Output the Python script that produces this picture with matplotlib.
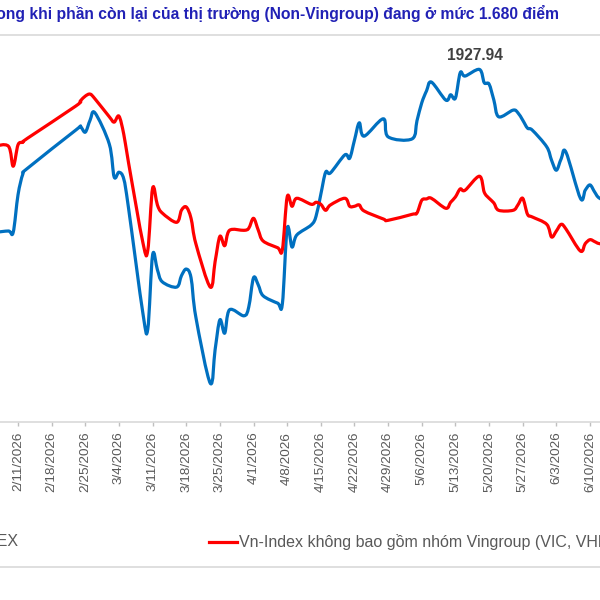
import matplotlib
matplotlib.use("Agg")
import matplotlib.pyplot as plt
import matplotlib.dates as mdates
from matplotlib.lines import Line2D
from matplotlib.patches import PathPatch
from matplotlib.path import Path
from matplotlib.ticker import FuncFormatter
import numpy as np
import pandas as pd

# trading days (Tet 16-20/2, Hung Kings 27/4, 30/4-1/5 closed)
holidays = ["2026-02-16", "2026-02-17", "2026-02-18", "2026-02-19", "2026-02-20",
            "2026-04-27", "2026-04-30", "2026-05-01"]
dates = pd.bdate_range("2026-02-05", "2026-06-15", freq="C", holidays=holidays)

vnindex = [
    1686, 1684, 1686, 1684, 1740, 1771, 1780, 1837, 1842, 1834, 1852, 1863,
    1816, 1767, 1774, 1764, 1720, 1562, 1539, 1650, 1628, 1610, 1602, 1619,
    1629, 1616, 1557, 1458, 1508, 1553, 1533, 1568, 1559, 1572,
    1616, 1605, 1589, 1578, 1577, 1690, 1662, 1680, 1695, 1708, 1741, 1774,
    1773, 1800, 1795, 1822, 1848, 1828, 1854, 1827,
    1824, 1851, 1878, 1896, 1909, 1882, 1890, 1885, 1923, 1918, 1927.94, 1908,
    1906, 1882, 1857, 1867, 1863, 1852, 1840, 1837,
    1812, 1792, 1777, 1794, 1804, 1735, 1747, 1755, 1744, 1735, 1725,
]
non_vin = [
    1812, 1813, 1813, 1783, 1815, 1819, 1825, 1873, 1881, 1888, 1891, 1884,
    1857, 1849, 1858, 1831, 1788, 1668, 1657, 1750, 1725, 1713, 1699, 1717,
    1722, 1705, 1667, 1602, 1640, 1678, 1664, 1687, 1687, 1690,
    1705, 1687, 1671, 1661, 1658, 1737, 1723, 1735, 1726, 1729, 1726, 1717,
    1725, 1735, 1723, 1723, 1725, 1716, 1704, 1702,
    1711, 1713, 1732, 1734, 1735, 1720, 1729, 1737, 1749, 1747, 1768, 1744,
    1735, 1728, 1717, 1717, 1725, 1735, 1711, 1707,
    1696, 1677, 1686, 1696, 1689, 1656, 1667, 1673, 1670, 1667, 1664,
]

title = "trong khi phần còn lại của thị trường (Non-Vingroup) đang ở mức 1.680 điểm"
label_vn = "VN-INDEX"
label_nonvin = "Vn-Index không bao gồm nhóm Vingroup (VIC, VHM, VRE)"

BLUE = "#0070C0"
RED = "#FF0000"
GREY_TXT = "#595959"
GREY_LINE = "#d9d9d9"


def smooth_line(ax, x, y, color, lw):
    """Excel-like smoothed line: Catmull-Rom bezier through every point."""
    pts = np.column_stack([x, y])
    n = len(pts)
    verts = [pts[0]]
    codes = [Path.MOVETO]
    for i in range(n - 1):
        p0 = pts[max(i - 1, 0)]
        p1, p2 = pts[i], pts[i + 1]
        p3 = pts[min(i + 2, n - 1)]
        verts += [p1 + (p2 - p0) / 6, p2 - (p3 - p1) / 6, p2]
        codes += [Path.CURVE4] * 3
    patch = PathPatch(Path(verts, codes), fill=False, edgecolor=color, lw=lw,
                      joinstyle="round", capstyle="round")
    ax.add_patch(patch)


plt.rcParams["font.family"] = ["Liberation Sans", "DejaVu Sans"]

fig = plt.figure(figsize=(6, 6), dpi=100)
ax = fig.add_axes([0, 1 - 422 / 600, 1, (422 - 40) / 600])

xs = mdates.date2num(dates)
smooth_line(ax, xs, vnindex, BLUE, 2.3)
smooth_line(ax, xs, non_vin, RED, 2.3)

# label on the VN-Index peak
i_max = vnindex.index(max(vnindex))
ax.annotate(f"{vnindex[i_max]:.2f}", xy=(xs[i_max], vnindex[i_max]),
            xytext=(-5, 14), textcoords="offset pixels", ha="center", va="center",
            fontsize=11.2, fontweight="bold", color="#404040")

t0 = mdates.date2num(pd.Timestamp("2026-02-11"))
ax.set_xlim(t0 - 3.745, t0 + 121.08)
ax.set_ylim(1400, 1972)

for s in ("top", "right", "left"):
    ax.spines[s].set_visible(False)
ax.spines["bottom"].set_color(GREY_LINE)
ax.spines["bottom"].set_linewidth(1.2)
ax.set_yticks([])

ax.xaxis.set_major_locator(mdates.WeekdayLocator(byweekday=mdates.WE))
ax.xaxis.set_major_formatter(FuncFormatter(
    lambda v, pos: (lambda d: f"{d.month}/{d.day}/{d.year}")(mdates.num2date(v))))
ax.tick_params(axis="x", length=3, width=1, color="#bfbfbf", pad=4,
               labelrotation=90, labelsize=9.7, labelcolor=GREY_TXT)

# title (left part cut off as in the source)
fig.text(559 / 600, 1 - 13 / 600, title, ha="right", va="center",
         fontsize=11.24, fontweight="bold", color="#2121B5")

# separators
for yp in (35, 567):
    fig.add_artist(Line2D([0, 1], [1 - yp / 600] * 2, color=GREY_LINE, lw=1.2))

# legend row
ly = 1 - 542 / 600
fig.text(19 / 600, ly, label_vn, ha="right", va="center", fontsize=11.5, color=GREY_TXT)
fig.add_artist(Line2D([209 / 600, 237 / 600], [ly, ly], color=RED, lw=2.3))
fig.text(239 / 600, ly, label_nonvin, ha="left", va="center", fontsize=11.5, color=GREY_TXT)

fig.savefig("out.png", dpi=100)
